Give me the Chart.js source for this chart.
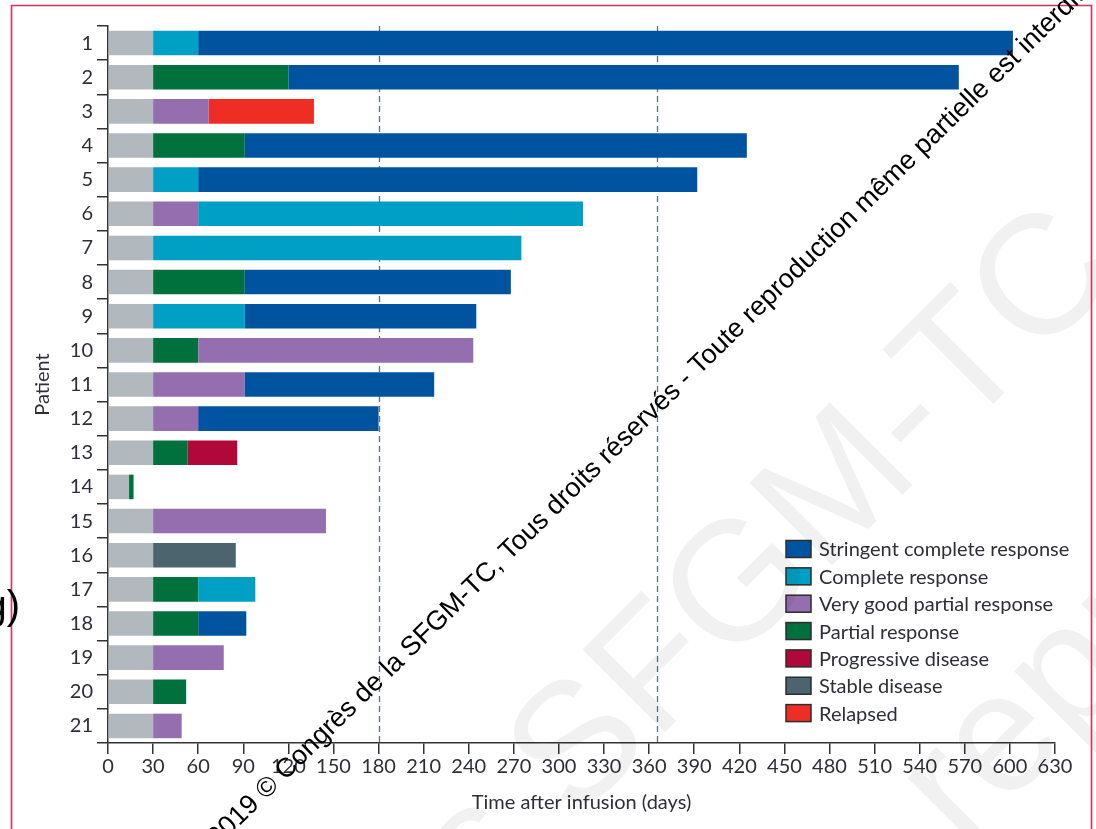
<!DOCTYPE html>
<html>
<head>
<meta charset="utf-8">
<title>Swimmer plot</title>
<script src="https://cdn.jsdelivr.net/npm/chart.js@4.4.1/dist/chart.umd.min.js"></script>
<style>
  html, body { margin: 0; padding: 0; background: #fff; }
  #wrap { position: relative; width: 1096px; height: 829px; }
</style>
</head>
<body>
<div id="wrap"><canvas id="swimmer"></canvas></div>
<script>
// patients, top to bottom
const patients = ['1','2','3','4','5','6','7','8','9','10','11','12','13','14','15','16','17','18','19','20','21'];

// each entry is [start day, end day] for that patient, null when the status never occurred
const firstMonth = [[0,30],[0,30],[0,30],[0,30],[0,30],[0,30],[0,30],[0,30],[0,30],[0,30],[0,30],
  [0,30],[0,30],[0,14],[0,30],[0,30],[0,30],[0,30],[0,30],[0,30],[0,30]];
const stringentComplete = [[60,602],[120,566],null,[91,425],[60,392],null,null,[91,268],[91,245],null,[91,217],
  [60,180],null,null,null,null,null,[60,92],null,null,null];
const complete = [[30,60],null,null,null,[30,60],[60,316],[30,275],null,[30,91],null,null,
  null,null,null,null,null,[60,98],null,null,null,null];
const veryGoodPartial = [null,null,[30,67],null,null,[30,60],null,null,null,[60,243],[30,91],
  [30,60],null,null,[30,145],null,null,null,[30,77],null,[30,49]];
const partial = [null,[30,120],null,[30,91],null,null,null,[30,91],null,[30,60],null,
  null,[30,53],[14,17],null,null,[30,60],[30,60],null,[30,52],null];
const progressive = [null,null,null,null,null,null,null,null,null,null,null,
  null,[53,86],null,null,null,null,null,null,null,null];
const stable = [null,null,null,null,null,null,null,null,null,null,null,
  null,null,null,null,[30,85],null,null,null,null,null];
const relapsed = [null,null,[67,137],null,null,null,null,null,null,null,null,
  null,null,null,null,null,null,null,null,null,null];

const statusLabels = ['Stringent complete response','Complete response','Very good partial response',
  'Partial response','Progressive disease','Stable disease','Relapsed'];
const statusValues = [stringentComplete, complete, veryGoodPartial, partial, progressive, stable, relapsed];
const statusColors = ['#00549f','#00a0c4','#946eaf','#00703c','#b00838','#4c646e','#ee2e24'];

// day 180 and one year
const milestones = [180, 365];

const xTicks = { min: 0, max: 630, step: 30 };

const textColor = '#2e2e38';
const axisFont = { family: 'Lato, "Noto Sans", sans-serif', size: 20 };

const datasets = [{
  label: 'First month',
  data: firstMonth,
  backgroundColor: '#b2b9be'
}];
statusLabels.forEach((label, i) => {
  datasets.push({ label: label, data: statusValues[i], backgroundColor: statusColors[i] });
});

// dashed reference lines behind the bars
const milestoneLines = {
  id: 'milestoneLines',
  beforeDatasetsDraw(chart) {
    const {ctx, chartArea, scales} = chart;
    ctx.save();
    ctx.strokeStyle = '#5b7180';
    ctx.lineWidth = 1.3;
    ctx.setLineDash([6, 4]);
    milestones.forEach(day => {
      const x = Math.round(scales.x.getPixelForValue(day)) + 0.5;
      ctx.beginPath();
      ctx.moveTo(x, chartArea.top);
      ctx.lineTo(x, chartArea.bottom);
      ctx.stroke();
    });
    ctx.restore();
  }
};

// legend boxes inside the plot, lower right
const boxLegend = {
  id: 'boxLegend',
  afterDraw(chart) {
    const ctx = chart.ctx;
    const x0 = 786, y0 = 549, step = 27.35;
    ctx.save();
    ctx.font = '20px Lato, "Noto Sans", sans-serif';
    ctx.textBaseline = 'middle';
    ctx.textAlign = 'left';
    statusLabels.forEach((label, i) => {
      const y = y0 + i * step;
      ctx.fillStyle = statusColors[i];
      ctx.fillRect(x0, y - 8.5, 25, 17);
      ctx.strokeStyle = '#2d2d2d';
      ctx.lineWidth = 1.5;
      ctx.strokeRect(x0, y - 8.5, 25, 17);
      ctx.fillStyle = textColor;
      ctx.fillText(label, x0 + 33, y + 1);
    });
    ctx.restore();
  }
};

// writes `text` rotated so that the centre of the glyph at `idx` sits on (cx, cy)
function rotatedWord(ctx, text, idx, cx, cy, deg) {
  const before = ctx.measureText(text.slice(0, idx)).width;
  const half = ctx.measureText(text[idx]).width / 2;
  ctx.save();
  ctx.translate(cx, cy);
  ctx.rotate(deg * Math.PI / 180);
  ctx.textAlign = 'left';
  ctx.textBaseline = 'middle';
  ctx.fillText(text, -(before + half), 0);
  ctx.restore();
}

// page frame, panel letter, faint background stamp and copyright line
const pageMarks = {
  id: 'pageMarks',
  afterDraw(chart) {
    const ctx = chart.ctx;
    ctx.save();

    ctx.fillStyle = 'rgba(0,0,0,0.055)';
    ctx.font = '170px "Liberation Sans", Arial, sans-serif';
    rotatedWord(ctx, 'Congrès SFGM-TC', 14, 1046, 285, -45);
    rotatedWord(ctx, 'reproduction', 1, 1003, 743, -45);

    ctx.strokeStyle = '#d0335a';
    ctx.lineWidth = 1.6;
    ctx.beginPath();
    ctx.moveTo(11.5, 840);
    ctx.lineTo(11.5, 5.5);
    ctx.lineTo(1091.5, 5.5);
    ctx.lineTo(1091.5, 840);
    ctx.stroke();

    ctx.fillStyle = '#000';
    ctx.font = '40px "Liberation Sans", Arial, sans-serif';
    ctx.textAlign = 'right';
    ctx.textBaseline = 'alphabetic';
    ctx.fillText('g)', 20, 619);

    const notice = '2019 © Congrès de la SFGM-TC, Tous droits réservés - Toute reproduction même partielle est interdite';
    ctx.font = '27px "Liberation Sans", Arial, sans-serif';
    ctx.textAlign = 'left';
    const lead = ctx.measureText('2019 © Congrès de la SFGM-TC, Tous droits ').width;
    const ang = -44.4 * Math.PI / 180;
    const ax = 608, ay = 465;
    ctx.translate(ax - lead * Math.cos(ang), ay - lead * Math.sin(ang));
    ctx.rotate(ang);
    ctx.fillText(notice, 0, 0);
    ctx.restore();
  }
};

new Chart(document.getElementById('swimmer'), {
  type: 'bar',
  data: { labels: patients, datasets: datasets },
  options: {
    indexAxis: 'y',
    responsive: true,
    maintainAspectRatio: false,
    animation: false,
    layout: { padding: { left: 0, right: 41, top: 26, bottom: 0 } },
    datasets: {
      bar: { grouped: false, barPercentage: 0.72, categoryPercentage: 1, borderWidth: 0 }
    },
    plugins: {
      legend: { display: false },
      tooltip: { enabled: false }
    },
    scales: {
      x: {
        type: 'linear',
        min: xTicks.min,
        max: xTicks.max,
        ticks: { stepSize: xTicks.step, autoSkip: false, maxRotation: 0, padding: 1, color: textColor, font: axisFont },
        grid: { drawOnChartArea: false, drawTicks: true, tickLength: 11, color: '#333', lineWidth: 1.5 },
        border: { color: '#333', width: 1.5 },
        title: { display: true, text: 'Time after infusion (days)', color: textColor, font: axisFont, padding: { top: 0, bottom: 14 } },
        afterFit(scale) { scale.height = 86; }
      },
      y: {
        type: 'category',
        ticks: { autoSkip: false, padding: 4, color: textColor, font: axisFont },
        grid: { offset: true, drawOnChartArea: false, drawTicks: true, tickLength: 11, color: '#333', lineWidth: 1.5 },
        border: { color: '#333', width: 1.5 },
        title: { display: true, text: 'Patient', color: textColor, font: axisFont, padding: { top: 31, bottom: 0 } },
        afterFit(scale) { scale.width = 108; }
      }
    }
  },
  plugins: [milestoneLines, boxLegend, pageMarks]
});
</script>
</body>
</html>
